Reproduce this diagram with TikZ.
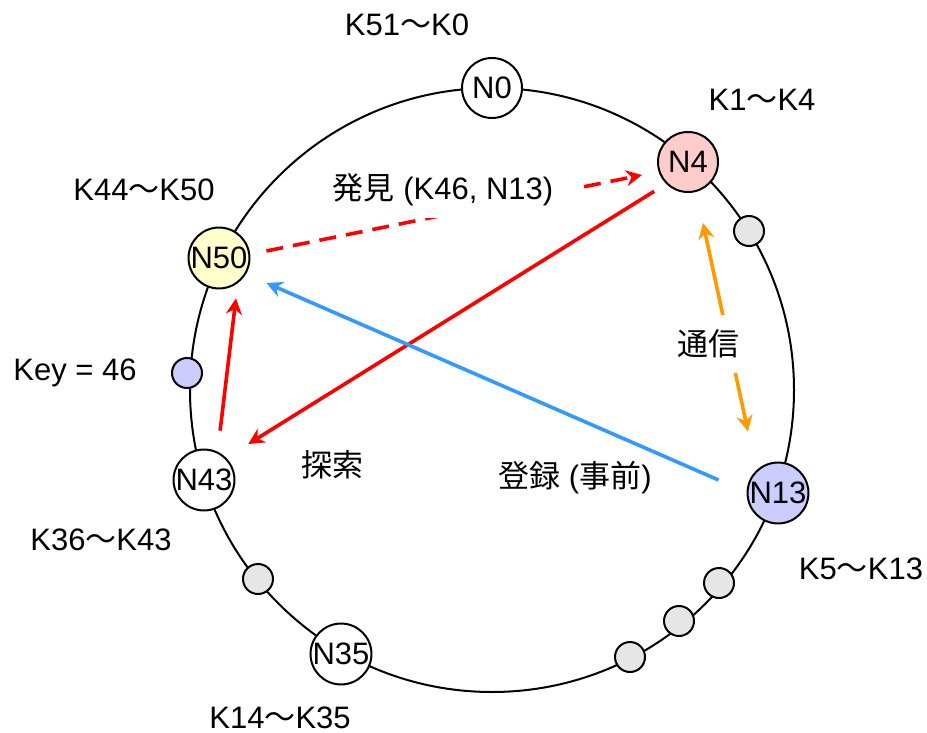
\documentclass[tikz,border=0pt]{standalone}
\usepackage{fontspec}
\setmainfont{Liberation Sans}
\newfontfamily\jp{Noto Sans CJK JP}
\usepackage{xcolor}
\usepackage{tikz}
\usetikzlibrary{arrows.meta}

\definecolor{peerred}{HTML}{FFCCCC}
\definecolor{peeryellow}{HTML}{FFFFCC}
\definecolor{peerblue}{HTML}{CCCCFF}
\definecolor{slotgray}{HTML}{E6E6E6}
\definecolor{regblue}{HTML}{3399FF}
\definecolor{talkorange}{HTML}{FF9900}

\begin{document}
\begin{tikzpicture}[
  x=0.5pt, y=-0.5pt,
  every node/.style={font=\fontsize{15.5}{18}\selectfont},
  peer/.style={draw, circle, line width=1pt, minimum size=30pt, inner sep=0pt, fill=white},
  slot/.style={draw, circle, line width=1pt, minimum size=15pt, inner sep=0pt, fill=slotgray},
  lbl/.style={inner sep=1pt},
  tag/.style={fill=white, inner sep=2pt},
  arr/.style={-{Stealth[length=8pt, width=8pt]}, line width=1.8pt}
]
\useasboundingbox (0,0) rectangle (927,733);

% ring
\draw[line width=1pt] (492,390) circle[radius=302];

% peers on the ring
\node[peer] (n0) at (492,88) {N0};
\node[peer, fill=peerred] (n4) at (688,162) {N4};
\node[peer, fill=peerblue] (n13) at (778,493) {N13};
\node[peer] (n35) at (341,654) {N35};
\node[peer] (n43) at (204,480) {N43};
\node[peer, fill=peeryellow] (n50) at (219,258) {N50};

% keys / empty slots
\node[slot, fill=peerblue] (k46) at (187,373) {};
\node[slot] (s1) at (749,231) {};
\node[slot] (s2) at (719,583) {};
\node[slot] (s3) at (679,621) {};
\node[slot] (s4) at (630,657) {};
\node[slot] (s5) at (258,579) {};

% key ranges
\node[lbl] (r0) at (407,25) {K51{\jp ～}K0};
\node[lbl] (r4) at (762,100) {K1{\jp ～}K4};
\node[lbl] (r13) at (861,569) {K5{\jp ～}K13};
\node[lbl] (r35) at (280,718) {K14{\jp ～}K35};
\node[lbl] (r43) at (101,540) {K36{\jp ～}K43};
\node[lbl] (r50) at (144,190) {K44{\jp ～}K50};
\node[lbl] (key) at (75,373) {Key = 46};

% connectors
\draw[arr, red, dash pattern=on 8.5pt off 5pt] ([shift={(16,-7)}]n50.east) -- ([shift={(-15,13)}]n4.west);
\node[tag, minimum width=134pt, minimum height=28pt] (find) at (443,190) {{\jp 発見} (K46, N13)};
\draw[arr, red, shorten <=7pt, shorten >=13pt] (n4.south west) -- (n43.north east);
\draw[arr, red, shorten <=9pt, shorten >=4.5pt] ([xshift=7pt]n43.north) -- ([xshift=9pt]n50.south);
\draw[arr, regblue] ([shift={(-28,-13)}]n13.west) -- ([shift={(16,25)}]n50.east);
\draw[{Stealth[length=8pt, width=8pt]}-{Stealth[length=8pt, width=8pt]}, line width=1.8pt, talkorange]
  ([shift={(15,30)}]n4.south) -- ([shift={(-30,-30)}]n13.north);
\node[tag, minimum height=29pt] (talk) at (708,344) {{\jp 通信}};
\node[lbl] (search) at (332,465) {{\jp 探索}};
\node[lbl] (reg) at (575,478) {{\jp 登録} ({\jp 事前})};
\end{tikzpicture}
\end{document}
